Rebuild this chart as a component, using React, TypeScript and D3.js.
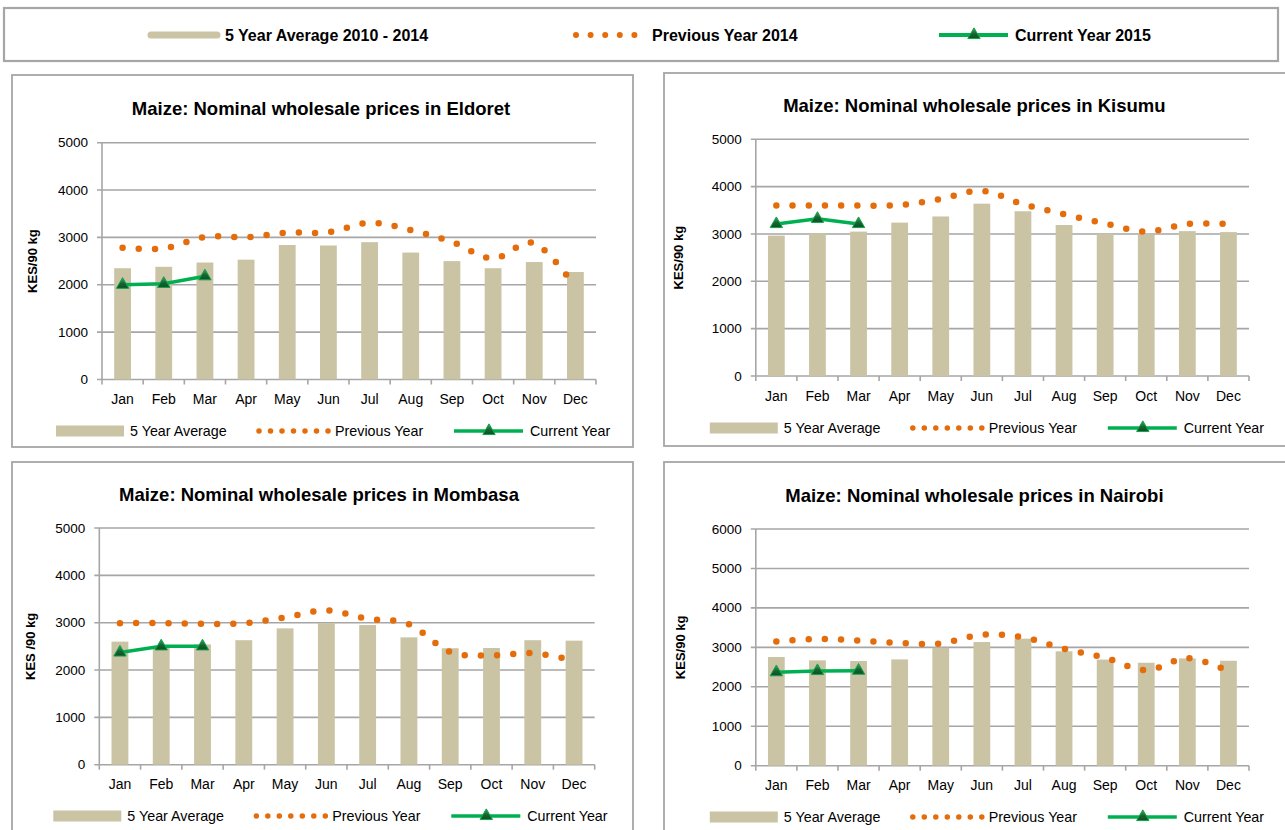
import React from 'react';
import * as d3 from 'd3';

const months = ['Jan', 'Feb', 'Mar', 'Apr', 'May', 'Jun', 'Jul', 'Aug', 'Sep', 'Oct', 'Nov', 'Dec'];

// KES per 90 kg bag
const eldoretAvg = [2350, 2380, 2470, 2530, 2840, 2830, 2900, 2680, 2500, 2350, 2480, 2270];
const eldoretPrev = [2780, 2770, 3010, 3005, 3100, 3110, 3310, 3155, 2905, 2555, 2880, 1950];
const eldoretCurr = [2000, 2020, 2180];

const kisumuAvg = [2965, 3010, 3050, 3240, 3370, 3640, 3480, 3190, 3000, 2990, 3060, 3040];
const kisumuPrev = [3600, 3600, 3600, 3610, 3740, 3910, 3630, 3420, 3220, 3050, 3210, 3210];
const kisumuCurr = [3210, 3320, 3210];

const mombasaAvg = [2600, 2490, 2540, 2630, 2880, 2990, 2950, 2690, 2460, 2465, 2630, 2620];
const mombasaPrev = [2990, 2990, 2975, 2990, 3110, 3260, 3080, 2970, 2380, 2310, 2355, 2200];
const mombasaCurr = [2370, 2500, 2500];

const nairobiAvg = [2755, 2670, 2655, 2695, 2990, 3135, 3220, 2900, 2690, 2610, 2720, 2660];
const nairobiPrev = [3150, 3215, 3170, 3108, 3100, 3320, 3255, 2965, 2735, 2420, 2725, 2400];
const nairobiCurr = [2370, 2400, 2410];

const FONT = '"Liberation Sans", Arial, sans-serif';
const TAN = '#CAC4A5';
const ORANGE = '#E46C0A';
const GREEN = '#00B050';
const GRID = '#A6A6A6';
const BORDER = '#A6A6A6';

const triPath = d3.symbol().type(d3.symbolTriangle).size(66)() || '';

function Triangle({ x, y }: { x: number; y: number }) {
  return (
    <path
      d={triPath}
      transform={`translate(${x},${y})`}
      fill="url(#triGrad)"
      stroke="#12A04A"
      strokeWidth={1}
    />
  );
}

interface PanelProps {
  title: string;
  yLabel: string;
  avg: number[];
  prev: number[];
  curr: number[];
  yMax: number;
  box: { x: number; y: number; w: number; h: number };
  left: number;
  right: number;
  top: number;
  bottom: number;
  yLabelX: number;
  titleY: number;
  legendY: number;
}

function Panel(p: PanelProps) {
  const x = d3.scaleBand().domain(months).range([p.left, p.right]).padding(0);
  const y = d3.scaleLinear().domain([0, p.yMax]).range([p.bottom, p.top]);
  const ticks = y.ticks(p.yMax / 1000);
  const cx = (i: number) => (x(months[i]) || 0) + x.bandwidth() / 2;
  const barW = x.bandwidth() / 2.45;

  const prevLine = d3.line<number>()
    .x((d, i) => cx(i))
    .y(d => y(d))
    .curve(d3.curveCardinal.tension(0));

  const currLine = d3.line<number>()
    .x((d, i) => cx(i))
    .y(d => y(d));

  const titleX = (p.left + p.right) / 2 - 28;
  const ly = p.legendY;
  const L = p.left;

  return (
    <g fontFamily={FONT}>
      <rect x={p.box.x} y={p.box.y} width={p.box.w} height={p.box.h} fill="#fff" stroke={BORDER} strokeWidth={1.8} />
      <text x={titleX} y={p.titleY} dy={1.5} textAnchor="middle" dominantBaseline="middle" fontWeight="bold" fontSize={18.5} fill="#000">
        {p.title}
      </text>

      {/* gridlines + y axis */}
      {ticks.map(t => (
        <g key={t}>
          <line x1={p.left - 5} x2={p.right} y1={y(t)} y2={y(t)} stroke={GRID} strokeWidth={1.6} />
          <text x={p.left - 14} y={y(t)} dy={1} textAnchor="end" dominantBaseline="middle" fontSize={13.5} fill="#000">
            {t}
          </text>
        </g>
      ))}
      <line x1={p.left} x2={p.left} y1={p.top} y2={p.bottom} stroke={GRID} strokeWidth={1.6} />

      {/* x axis ticks */}
      {d3.range(13).map(i => {
        const xx = p.left + i * x.step();
        return <line key={i} x1={xx} x2={xx} y1={p.bottom} y2={p.bottom + 5} stroke={GRID} strokeWidth={1.6} />;
      })}
      {months.map((m, i) => (
        <text key={m} x={cx(i)} y={p.bottom + 21} textAnchor="middle" dominantBaseline="middle" fontSize={14} fill="#000">
          {m}
        </text>
      ))}

      <text
        transform={`translate(${p.yLabelX},${(p.top + p.bottom) / 2}) rotate(-90)`}
        textAnchor="middle"
        dominantBaseline="middle"
        fontWeight="bold"
        fontSize={13}
        fill="#000"
      >
        {p.yLabel}
      </text>

      {/* 5 year average bars */}
      {p.avg.map((v, i) => (
        <rect key={i} x={cx(i) - barW / 2} y={y(v)} width={barW} height={p.bottom - y(v)} fill={TAN} />
      ))}

      {/* previous year, smoothed round-dot line */}
      <path
        d={prevLine(p.prev) || ''}
        fill="none"
        stroke={ORANGE}
        strokeWidth={6.5}
        strokeLinecap="round"
        strokeDasharray="0 16.2"
      />

      {/* current year */}
      <path d={currLine(p.curr) || ''} fill="none" stroke={GREEN} strokeWidth={3.5} />
      {p.curr.map((v, i) => (
        <Triangle key={i} x={cx(i)} y={y(v)} />
      ))}

      {/* legend */}
      <rect x={L - 46} y={ly - 5.5} width={68} height={11} fill={TAN} />
      <text x={L + 28} y={ly} dy={1} dominantBaseline="middle" fontSize={14.3} fill="#000">5 Year Average</text>
      <path
        d={`M${L + 157},${ly}H${L + 226.2}`}
        stroke={ORANGE}
        strokeWidth={5.5}
        strokeLinecap="round"
        strokeDasharray="0 11.5"
      />
      <text x={L + 233} y={ly} dy={1} dominantBaseline="middle" fontSize={14.3} fill="#000">Previous Year</text>
      <line x1={L + 352} x2={L + 421} y1={ly} y2={ly} stroke={GREEN} strokeWidth={3.5} />
      <Triangle x={L + 387} y={ly} />
      <text x={L + 428} y={ly} dy={1} dominantBaseline="middle" fontSize={14.3} fill="#000">Current Year</text>
    </g>
  );
}

export default function App() {
  return (
    <svg
      width={1285}
      height={830}
      viewBox="0 0 1285 830"
      style={{ position: 'absolute', left: 0, top: 0, background: '#fff' }}
    >
      <defs>
        <linearGradient id="triGrad" x1="0" y1="0" x2="0" y2="1">
          <stop offset="0%" stopColor="#3DAA63" />
          <stop offset="55%" stopColor="#14652F" />
          <stop offset="100%" stopColor="#0C4F24" />
        </linearGradient>
      </defs>

      {/* shared legend */}
      <g fontFamily={FONT}>
        <rect x={4} y={8} width={1274} height={53} fill="#fff" stroke={BORDER} strokeWidth={2.2} />
        <line x1={151} x2={217} y1={35} y2={35} stroke={TAN} strokeWidth={7} strokeLinecap="round" />
        <text x={225} y={35} dy={1.5} dominantBaseline="middle" fontWeight="bold" fontSize={16} fill="#000">
          5 Year Average 2010 - 2014
        </text>
        <path d="M576,35H634.5" stroke={ORANGE} strokeWidth={6} strokeLinecap="round" strokeDasharray="0 14.6" />
        <text x={652} y={35} dy={1.5} dominantBaseline="middle" fontWeight="bold" fontSize={16} fill="#000">
          Previous Year 2014
        </text>
        <line x1={939} x2={1008} y1={35} y2={35} stroke={GREEN} strokeWidth={4} />
        <Triangle x={974} y={35} />
        <text x={1015} y={35} dy={1.5} dominantBaseline="middle" fontWeight="bold" fontSize={16} fill="#000">
          Current Year 2015
        </text>
      </g>

      <Panel
        title="Maize: Nominal wholesale prices in Eldoret"
        yLabel="KES/90 kg"
        avg={eldoretAvg}
        prev={eldoretPrev}
        curr={eldoretCurr}
        yMax={5000}
        box={{ x: 12, y: 75, w: 621, h: 372 }}
        left={102}
        right={596}
        top={142.7}
        bottom={379.5}
        yLabelX={34}
        titleY={109}
        legendY={431}
      />
      <Panel
        title="Maize: Nominal wholesale prices in Kisumu"
        yLabel="KES/90 kg"
        avg={kisumuAvg}
        prev={kisumuPrev}
        curr={kisumuCurr}
        yMax={5000}
        box={{ x: 664, y: 73, w: 640, h: 373 }}
        left={755.8}
        right={1249}
        top={139.3}
        bottom={376}
        yLabelX={680}
        titleY={106}
        legendY={428}
      />
      <Panel
        title="Maize: Nominal wholesale prices in Mombasa"
        yLabel="KES /90 kg"
        avg={mombasaAvg}
        prev={mombasaPrev}
        curr={mombasaCurr}
        yMax={5000}
        box={{ x: 12, y: 462, w: 621, h: 400 }}
        left={99.3}
        right={594.7}
        top={528}
        bottom={764.7}
        yLabelX={32}
        titleY={495}
        legendY={816}
      />
      <Panel
        title="Maize: Nominal wholesale prices in Nairobi"
        yLabel="KES/90 kg"
        avg={nairobiAvg}
        prev={nairobiPrev}
        curr={nairobiCurr}
        yMax={6000}
        box={{ x: 664, y: 462, w: 640, h: 400 }}
        left={755.8}
        right={1249}
        top={529}
        bottom={765.7}
        yLabelX={682}
        titleY={496}
        legendY={817}
      />
    </svg>
  );
}
